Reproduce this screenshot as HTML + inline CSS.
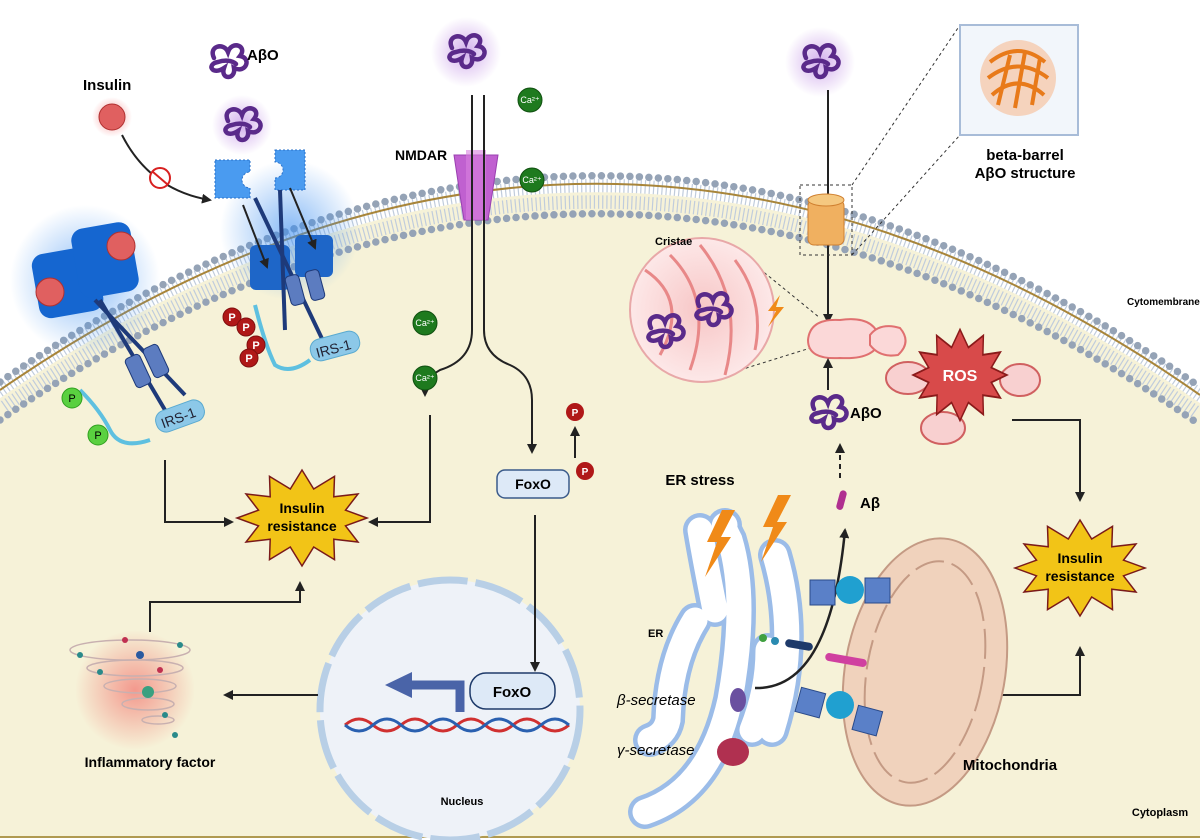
<!DOCTYPE html>
<html><head><meta charset="utf-8"><style>
html,body{margin:0;padding:0;background:#fff}
svg{display:block}
text{font-family:"Liberation Sans",sans-serif}
.b{font-weight:bold}
</style></head><body>
<svg width="1200" height="840" viewBox="0 0 1200 840" xmlns="http://www.w3.org/2000/svg">
<defs>
<marker id="ar" markerWidth="10" markerHeight="10" refX="8" refY="5" orient="auto" markerUnits="userSpaceOnUse"><path d="M0,0 L10,5 L0,10 z" fill="#222"/></marker>
<polygon id="star" points="65,0 43.5,7.8 56,24 31.8,21.2 32.5,41.6 11.7,29 0,48 -11.7,29 -32.5,41.6 -31.8,21.2 -56,24 -43.5,7.8 -65,0 -43.5,-7.8 -56,-24 -31.8,-21.2 -32.5,-41.6 -11.7,-29 0,-48 11.7,-29 32.5,-41.6 31.8,-21.2 56,-24 43.5,-7.8"/>
<path id="sq" d="M-14,-4 C-20,-16 -4,-20 0,-10 C4,-22 20,-16 12,-6 C24,-4 18,12 6,6 C8,18 -8,18 -4,6 C-16,14 -22,2 -10,0 C-4,-2 4,-2 8,2" fill="none" stroke="#5a2a8a" stroke-width="4.5" stroke-linecap="round"/>
<radialGradient id="glowp"><stop offset="0" stop-color="#b57be0" stop-opacity=".6"/><stop offset="1" stop-color="#b57be0" stop-opacity="0"/></radialGradient>
<radialGradient id="glowb"><stop offset="0" stop-color="#3b8ef0" stop-opacity=".6"/><stop offset="1" stop-color="#3b8ef0" stop-opacity="0"/></radialGradient>
<radialGradient id="glowr"><stop offset="0" stop-color="#f05050" stop-opacity=".55"/><stop offset="1" stop-color="#f05050" stop-opacity="0"/></radialGradient>
<radialGradient id="crg"><stop offset="0" stop-color="#f7c6c6"/><stop offset="1" stop-color="#fde8e8"/></radialGradient>
</defs>

<path d="M0,400 Q600,-15 1200,405 L1200,838 L0,838 Z" fill="#f6f2d8"/>
<line x1="0" y1="837" x2="1200" y2="837" stroke="#b09a50" stroke-width="2"/>
<path d="M0,400 Q600,-15 1200,405" fill="none" stroke="#c0ccdc" stroke-width="30" stroke-dasharray="1.2 3"/>
<path d="M0,400 Q600,-15 1200,405" fill="none" stroke="#f6f2d8" stroke-width="3"/>
<path d="M0,382 Q600,-33 1200,387" fill="none" stroke="#95a3b6" stroke-width="7.5" stroke-dasharray="0 9.5" stroke-linecap="round"/>
<path d="M0,420 Q600,5 1200,425" fill="none" stroke="#95a3b6" stroke-width="7.5" stroke-dasharray="0 9.5" stroke-linecap="round"/>
<path d="M0,390 Q600,-25 1200,395" fill="none" stroke="#a8853a" stroke-width="2"/>

<text x="83" y="90" class="b" font-size="15">Insulin</text>
<circle cx="112" cy="117" r="20" fill="url(#glowr)"/>
<circle cx="112" cy="117" r="13" fill="#e06060" stroke="#b03030"/>
<path d="M122,135 Q150,190 210,200" fill="none" stroke="#222" stroke-width="2" marker-end="url(#ar)"/>
<circle cx="160" cy="178" r="10" fill="#fff" stroke="#d82020" stroke-width="2"/>
<line x1="153" y1="172" x2="167" y2="184" stroke="#d82020" stroke-width="2"/>

<use href="#sq" x="228" y="62"/>
<text x="247" y="60" class="b" font-size="15">AβO</text>
<circle cx="242" cy="125" r="30" fill="url(#glowp)"/>
<use href="#sq" x="242" y="125"/>

<circle cx="290" cy="230" r="70" fill="url(#glowb)"/>
<path d="M215,160 h35 v12 a8,8 0 0 0 0,16 v10 h-35 z" fill="#4a9bf0" stroke="#2a70c8" stroke-dasharray="2 2"/>
<path d="M275,150 h30 v40 h-30 v-12 a8,8 0 0 0 0,-16 z" fill="#4a9bf0" stroke="#2a70c8" stroke-dasharray="2 2"/>
<rect x="250" y="245" width="40" height="45" rx="6" fill="#1e66c8"/>
<rect x="295" y="235" width="38" height="42" rx="6" fill="#1e66c8"/>
<line x1="255" y1="198" x2="325" y2="345" stroke="#1e3a7a" stroke-width="4"/>
<line x1="280" y1="190" x2="285" y2="330" stroke="#1e3a7a" stroke-width="4"/>
<rect x="288" y="275" width="14" height="30" rx="4" fill="#5c7cc0" stroke="#1e3a7a" transform="rotate(-15 295 290)"/>
<rect x="308" y="270" width="14" height="30" rx="4" fill="#5c7cc0" stroke="#1e3a7a" transform="rotate(-15 315 285)"/>
<line x1="243" y1="205" x2="267" y2="267" stroke="#222" stroke-width="2" marker-end="url(#ar)"/>
<line x1="290" y1="188" x2="315" y2="248" stroke="#222" stroke-width="2" marker-end="url(#ar)"/>
<path d="M255,305 Q265,345 275,365 Q290,375 310,360" fill="none" stroke="#5ec0e0" stroke-width="4"/>
<rect x="310" y="335" width="50" height="22" rx="10" fill="#8cc8e8" stroke="#5aaad0" transform="rotate(-15 335 346)"/>
<text x="315" y="353" font-size="14" fill="#223" transform="rotate(-15 335 346)">IRS-1</text>
<g fill="#b01818" stroke="#801010"><circle cx="232" cy="317" r="9"/><circle cx="246" cy="327" r="9"/><circle cx="256" cy="345" r="9"/><circle cx="249" cy="358" r="9"/></g>
<g fill="#fff" font-size="11" class="b" text-anchor="middle"><text x="232" y="321">P</text><text x="246" y="331">P</text><text x="256" y="349">P</text><text x="249" y="362">P</text></g>

<circle cx="85" cy="280" r="75" fill="url(#glowb)"/>
<rect x="35" y="250" width="65" height="65" rx="12" fill="#1566d0" transform="rotate(-10 67 282)"/>
<rect x="75" y="225" width="60" height="70" rx="12" fill="#1566d0" transform="rotate(-10 105 260)"/>
<circle cx="50" cy="292" r="14" fill="#e06060" stroke="#b03030"/>
<circle cx="121" cy="246" r="14" fill="#e06060" stroke="#b03030"/>
<line x1="100" y1="300" x2="165" y2="410" stroke="#1e3a7a" stroke-width="4"/>
<line x1="95" y1="300" x2="185" y2="395" stroke="#1e3a7a" stroke-width="4"/>
<rect x="130" y="355" width="16" height="32" rx="4" fill="#5c7cc0" stroke="#1e3a7a" transform="rotate(-25 138 371)"/>
<rect x="148" y="345" width="16" height="32" rx="4" fill="#5c7cc0" stroke="#1e3a7a" transform="rotate(-25 156 361)"/>
<path d="M80,390 Q100,410 110,430 Q120,450 150,440" fill="none" stroke="#5ec0e0" stroke-width="4"/>
<rect x="155" y="405" width="50" height="22" rx="10" fill="#8cc8e8" stroke="#5aaad0" transform="rotate(-20 180 416)"/>
<text x="160" y="422" font-size="14" fill="#223" transform="rotate(-20 180 416)">IRS-1</text>
<circle cx="72" cy="398" r="10" fill="#5ad040" stroke="#30a020"/><text x="72" y="402" font-size="11" text-anchor="middle">P</text>
<circle cx="98" cy="435" r="10" fill="#5ad040" stroke="#30a020"/><text x="98" y="439" font-size="11" text-anchor="middle">P</text>

<path d="M165,460 V522 H232" fill="none" stroke="#222" stroke-width="2" marker-end="url(#ar)"/>
<path d="M430,415 V522 H370" fill="none" stroke="#222" stroke-width="2" marker-end="url(#ar)"/>
<use href="#star" transform="translate(302,518)" fill="#f2c417" stroke="#7a1a1a" stroke-width="1.5"/>
<text x="302" y="513" class="b" font-size="14" text-anchor="middle">Insulin</text>
<text x="302" y="531" class="b" font-size="14" text-anchor="middle">resistance</text>

<circle cx="466" cy="52" r="35" fill="url(#glowp)"/>
<use href="#sq" x="466" y="52"/>
<text x="395" y="160" class="b" font-size="14">NMDAR</text>
<path d="M454,155 h44 l-6,40 l-4,25 h-24 l-4,-25 z" fill="#c060d0" stroke="#9a40b0"/>
<rect x="466" y="150" width="20" height="70" fill="#d880e0" opacity=".6"/>
<path d="M472,95 V330 Q472,360 440,370 Q425,378 425,395" fill="none" stroke="#222" stroke-width="2" marker-end="url(#ar)"/>
<path d="M484,95 V330 Q484,355 510,365 Q532,375 532,400 V452" fill="none" stroke="#222" stroke-width="2" marker-end="url(#ar)"/>
<g fill="#1e7a1e" stroke="#105010"><circle cx="530" cy="100" r="12"/><circle cx="532" cy="180" r="12"/><circle cx="425" cy="323" r="12"/><circle cx="425" cy="378" r="12"/></g>
<g fill="#fff" font-size="9" text-anchor="middle"><text x="530" y="103">Ca²⁺</text><text x="532" y="183">Ca²⁺</text><text x="425" y="326">Ca²⁺</text><text x="425" y="381">Ca²⁺</text></g>

<rect x="497" y="470" width="72" height="28" rx="8" fill="#dde9f7" stroke="#3a5a8a" stroke-width="1.5"/>
<text x="533" y="489" class="b" font-size="14" text-anchor="middle">FoxO</text>
<line x1="575" y1="458" x2="575" y2="428" stroke="#222" stroke-width="2" marker-end="url(#ar)"/>
<circle cx="575" cy="412" r="9" fill="#b01818"/><text x="575" y="416" fill="#fff" font-size="10" class="b" text-anchor="middle">P</text>
<circle cx="585" cy="471" r="9" fill="#b01818"/><text x="585" y="475" fill="#fff" font-size="10" class="b" text-anchor="middle">P</text>

<circle cx="450" cy="710" r="130" fill="#eef2f8" stroke="#b8cfe6" stroke-width="7" stroke-dasharray="50 8"/>
<line x1="535" y1="515" x2="535" y2="670" stroke="#222" stroke-width="2" marker-end="url(#ar)"/>
<path d="M345,725 q14,-12 28,0 t28,0 t28,0 t28,0 t28,0 t28,0 t28,0 t28,0" fill="none" stroke="#d03030" stroke-width="3"/>
<path d="M345,725 q14,12 28,0 t28,0 t28,0 t28,0 t28,0 t28,0 t28,0 t28,0" fill="none" stroke="#2a60b0" stroke-width="3"/>
<path d="M460,712 V685 H410" fill="none" stroke="#4a64a8" stroke-width="9"/>
<path d="M412,672 L385,685 L412,698 z" fill="#4a64a8"/>
<rect x="470" y="673" width="85" height="36" rx="16" fill="#dde9f7" stroke="#1e3a6a" stroke-width="1.5"/>
<text x="512" y="697" class="b" font-size="15" text-anchor="middle">FoxO</text>
<text x="462" y="805" class="b" font-size="11" text-anchor="middle">Nucleus</text>

<line x1="318" y1="695" x2="225" y2="695" stroke="#222" stroke-width="2" marker-end="url(#ar)"/>
<circle cx="135" cy="690" r="60" fill="url(#glowr)"/>
<g fill="none" stroke="#c8b0b0" stroke-width="1.5">
<ellipse cx="130" cy="650" rx="60" ry="10"/><ellipse cx="135" cy="668" rx="48" ry="8"/><ellipse cx="140" cy="686" rx="36" ry="7"/><ellipse cx="148" cy="704" rx="26" ry="6"/><ellipse cx="158" cy="720" rx="16" ry="4"/></g>
<g fill="#2a8a8a"><circle cx="80" cy="655" r="3"/><circle cx="180" cy="645" r="3"/><circle cx="148" cy="692" r="6" fill="#3aa080"/><circle cx="100" cy="672" r="3"/><circle cx="165" cy="715" r="3"/><circle cx="175" cy="735" r="3"/><circle cx="125" cy="640" r="3" fill="#c03050"/><circle cx="160" cy="670" r="3" fill="#c03050"/><circle cx="140" cy="655" r="4" fill="#2a5aa0"/></g>
<text x="150" y="767" class="b" font-size="14" text-anchor="middle">Inflammatory factor</text>
<path d="M150,632 V602 H300 V583" fill="none" stroke="#222" stroke-width="2" marker-end="url(#ar)"/>

<circle cx="820" cy="62" r="35" fill="url(#glowp)"/>
<use href="#sq" x="820" y="62"/>
<line x1="828" y1="90" x2="828" y2="322" stroke="#222" stroke-width="2" marker-end="url(#ar)"/>
<rect x="800" y="185" width="52" height="70" fill="none" stroke="#333" stroke-dasharray="3 3"/>
<rect x="808" y="200" width="36" height="45" rx="6" fill="#f0b060" stroke="#d08030"/>
<ellipse cx="826" cy="200" rx="18" ry="6" fill="#f5c880" stroke="#d08030"/>
<line x1="852" y1="185" x2="960" y2="25" stroke="#333" stroke-dasharray="3 3"/>
<line x1="852" y1="255" x2="960" y2="135" stroke="#333" stroke-dasharray="3 3"/>
<rect x="960" y="25" width="118" height="110" fill="#f2f6fb" stroke="#a8bcd8" stroke-width="2"/>
<circle cx="1018" cy="78" r="38" fill="#f8b080" opacity=".5"/>
<g stroke="#e87a1a" stroke-width="4" fill="none"><path d="M990,62 Q1018,40 1045,62"/><path d="M988,78 Q1018,55 1048,78"/><path d="M992,95 Q1018,72 1044,95"/><path d="M998,105 L1010,55 M1015,108 L1025,52 M1032,105 L1040,58"/></g>
<text x="1025" y="160" class="b" font-size="15" text-anchor="middle">beta-barrel</text>
<text x="1025" y="178" class="b" font-size="15" text-anchor="middle">AβO structure</text>
<text x="1127" y="305" class="b" font-size="10">Cytomembrane</text>

<line x1="755" y1="265" x2="820" y2="318" stroke="#333" stroke-dasharray="3 3"/>
<line x1="740" y1="370" x2="820" y2="345" stroke="#333" stroke-dasharray="3 3"/>
<circle cx="702" cy="310" r="72" fill="url(#crg)" stroke="#e8a8a8" stroke-width="2"/>
<g fill="none" stroke="#e88888" stroke-width="3"><path d="M645,270 Q690,300 660,355"/><path d="M670,255 Q715,300 690,370"/><path d="M700,245 Q745,300 725,375"/><path d="M735,260 Q765,300 755,350"/></g>
<use href="#sq" x="665" y="332"/>
<use href="#sq" x="713" y="310"/>
<path d="M780,295 l-12,16 h8 l-8,16 l16,-20 h-8 z" fill="#f08a18"/>
<text x="655" y="245" class="b" font-size="11">Cristae</text>
<path d="M808,340 Q810,318 840,320 Q875,315 880,340 Q875,360 840,358 Q808,360 808,340z" fill="#fbd8d8" stroke="#e07070" stroke-width="2"/>
<path d="M870,335 Q880,322 900,328 Q912,342 898,355 Q880,358 870,345z" fill="#fbd8d8" stroke="#e07070" stroke-width="2"/>
<line x1="828" y1="390" x2="828" y2="360" stroke="#222" stroke-width="2" marker-end="url(#ar)"/>
<use href="#sq" x="828" y="413"/>
<text x="850" y="418" class="b" font-size="15">AβO</text>
<line x1="840" y1="478" x2="840" y2="445" stroke="#222" stroke-width="2" stroke-dasharray="5 4" marker-end="url(#ar)"/>
<rect x="838" y="490" width="7" height="20" rx="3.5" fill="#b03090" transform="rotate(15 841 500)"/>
<text x="860" y="508" class="b" font-size="15">Aβ</text>

<g fill="#f8d0d0" stroke="#d06060" stroke-width="2"><ellipse cx="908" cy="378" rx="22" ry="16"/><ellipse cx="1020" cy="380" rx="20" ry="16"/><ellipse cx="943" cy="428" rx="22" ry="16"/></g>
<use href="#star" transform="translate(960,375) scale(.72,.95)" fill="#d84a4a" stroke="#8a1a1a" stroke-width="2"/>
<text x="960" y="381" class="b" font-size="16" fill="#fff" text-anchor="middle">ROS</text>
<path d="M1012,420 H1080 V500" fill="none" stroke="#222" stroke-width="2" marker-end="url(#ar)"/>
<use href="#star" transform="translate(1080,568)" fill="#f2c417" stroke="#7a1a1a" stroke-width="1.5"/>
<text x="1080" y="563" class="b" font-size="14" text-anchor="middle">Insulin</text>
<text x="1080" y="581" class="b" font-size="14" text-anchor="middle">resistance</text>
<path d="M1002,695 H1080 V648" fill="none" stroke="#222" stroke-width="2" marker-end="url(#ar)"/>

<!-- ER -->
<text x="700" y="485" class="b" font-size="15" text-anchor="middle">ER stress</text>
<g fill="none" stroke-linecap="round">
<g stroke="#9bbce8" stroke-width="34">
<path d="M645,812 Q710,790 730,700 Q748,600 730,540 Q722,525 725,525"/>
<path d="M715,610 Q705,560 700,530"/>
<path d="M695,620 Q670,660 668,720 Q665,735 650,740"/>
<path d="M775,555 Q800,640 772,730"/>
<path d="M752,730 Q768,690 768,650"/>
</g>
<g stroke="#fff" stroke-width="25">
<path d="M645,812 Q710,790 730,700 Q748,600 730,540 Q722,525 725,525"/>
<path d="M715,610 Q705,560 700,530"/>
<path d="M695,620 Q670,660 668,720 Q665,735 650,740"/>
<path d="M775,555 Q800,640 772,730"/>
<path d="M752,730 Q768,690 768,650"/>
</g></g>
<path d="M722,510 l-15,32 h10 l-12,35 l26,-40 h-10 l14,-27 z" fill="#f08a18"/>
<path d="M778,495 l-15,32 h10 l-12,35 l26,-40 h-10 l14,-27 z" fill="#f08a18"/>
<text x="648" y="637" class="b" font-size="11">ER</text>
<text x="617" y="705" font-size="15" font-style="italic">β-secretase</text>
<text x="617" y="755" font-size="15" font-style="italic">γ-secretase</text>
<ellipse cx="738" cy="700" rx="8" ry="12" fill="#6a50a0"/>
<ellipse cx="733" cy="752" rx="16" ry="14" fill="#b03050"/>
<path d="M755,688 Q830,690 845,530" fill="none" stroke="#222" stroke-width="2.5" marker-end="url(#ar)"/>
<ellipse cx="925" cy="672" rx="80" ry="135" transform="rotate(10 925 672)" fill="#f0d2bc" stroke="#c49a84" stroke-width="2"/>
<ellipse cx="925" cy="672" rx="58" ry="112" transform="rotate(10 925 672)" fill="none" stroke="#c49a84" stroke-width="2" stroke-dasharray="30 8"/>
<g><rect x="810" y="580" width="25" height="25" fill="#5a80c8" stroke="#2a4a8a"/><circle cx="850" cy="590" r="14" fill="#20a0d0"/><rect x="865" y="578" width="25" height="25" fill="#5a80c8" stroke="#2a4a8a"/>
<rect x="798" y="690" width="25" height="25" fill="#5a80c8" stroke="#2a4a8a" transform="rotate(15 810 702)"/><circle cx="840" cy="705" r="14" fill="#20a0d0"/><rect x="855" y="708" width="25" height="25" fill="#5a80c8" stroke="#2a4a8a" transform="rotate(15 867 720)"/></g>
<circle cx="763" cy="638" r="4" fill="#40a040"/><circle cx="775" cy="641" r="4" fill="#2a8ab0"/>
<rect x="785" y="641" width="28" height="8" rx="4" fill="#1e3a6a" transform="rotate(10 799 645)"/>
<rect x="825" y="656" width="42" height="8" rx="4" fill="#d040a0" transform="rotate(10 846 660)"/>
<text x="1010" y="770" class="b" font-size="15" text-anchor="middle">Mitochondria</text>
<text x="1160" y="816" class="b" font-size="11" text-anchor="middle">Cytoplasm</text>
</svg>
</body></html>
